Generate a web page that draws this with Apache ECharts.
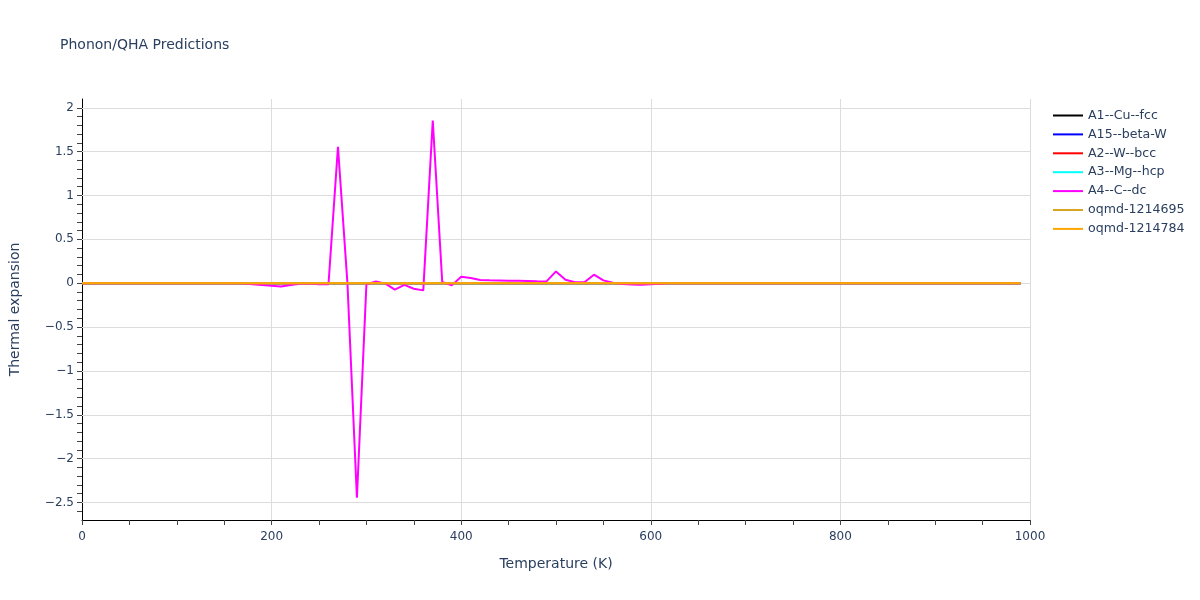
<!DOCTYPE html>
<html>
<head>
<meta charset="utf-8">
<script src="https://cdn.jsdelivr.net/npm/echarts@6/dist/echarts.min.js"></script>
<style>html,body{margin:0;padding:0;background:#fff}#c{width:1200px;height:600px}</style>
</head>
<body>
<div id="c"></div>
<script>
const temps = [0,10,20,30,40,50,60,70,80,90,100,110,120,130,140,150,160,170,180,190,200,210,220,230,240,250,260,270,280,290,300,310,320,330,340,350,360,370,380,390,400,410,420,430,440,450,460,470,480,490,500,510,520,530,540,550,560,570,580,590,600,610,620,630,640,650,660,670,680,690,700,710,720,730,740,750,760,770,780,790,800,810,820,830,840,850,860,870,880,890,900,910,920,930,940,950,960,970,980,990];
const seriesNames = ['A1--Cu--fcc','A15--beta-W','A2--W--bcc','A3--Mg--hcp','A4--C--dc','oqmd-1214695','oqmd-1214784'];
const seriesColors = ['#000000','#0000ff','#ff0000','#00ffff','#ff00ff','#daa520','#ffa500'];
const A1 = [0,0,0,0,0,0,0,0,0,0,0,0,0,0,0,0,0,0,0,0,0,0,0,0,0,0,0,0,0,0,0,0,0,0,0,0,0,0,0,0,0,0,0,0,0,0,0,0,0,0,0,0,0,0,0,0,0,0,0,0,0,0,0,0,0,0,0,0,0,0,0,0,0,0,0,0,0,0,0,0,0,0,0,0,0,0,0,0,0,0,0,0,0,0,0,0,0,0,0,0];
const A15 = [0,0,0,0,0,0,0,0,0,0,0,0,0,0,0,0,0,0,0,0,0,0,0,0,0,0,0,0,0,0,0,0,0,0,0,0,0,0,0,0,0,0,0,0,0,0,0,0,0,0,0,0,0,0,0,0,0,0,0,0,0,0,0,0,0,0,0,0,0,0,0,0,0,0,0,0,0,0,0,0,0,0,0,0,0,0,0,0,0,0,0,0,0,0,0,0,0,0,0,0];
const A2 = [0,0,0,0,0,0,0,0,0,0,0,0,0,0,0,0,0,0,0,0,0,0,0,0,0,0,0,0,0,0,0,0,0,0,0,0,0,0,0,0,0,0,0,0,0,0,0,0,0,0,0,0,0,0,0,0,0,0,0,0,0,0,0,0,0,0,0,0,0,0,0,0,0,0,0,0,0,0,0,0,0,0,0,0,0,0,0,0,0,0,0,0,0,0,0,0,0,0,0,0];
const A3 = [0,0,0,0,0,0,0,0,0,0,0,0,0,0,0,0,0,0,0,0,0,0,0,0,0,0,0,0,0,0,0,0,0,0,0,0,0,0,0,0,0,0,0,0,0,0,0,0,0,0,0,0,0,0,0,0,0,0,0,0,0,0,0,0,0,0,0,0,0,0,0,0,0,0,0,0,0,0,0,0,0,0,0,0,0,0,0,0,0,0,0,0,0,0,0,0,0,0,0,0];
const A4 = [0,0,0,0,0,0,0,0,0,0,0,0,0,0,0,0,0,
  -0.005,-0.012,-0.022,-0.03,-0.037,-0.02,-0.006,-0.004,-0.012,-0.012,
  1.555,0.0,-2.447,-0.015,0.02,-0.005,-0.074,-0.02,-0.063,-0.082,
  1.855,0.014,-0.025,0.074,0.06,0.036,0.033,0.031,0.029,0.027,
  0.025,0.022,0.02,0.134,0.04,0.01,0.01,0.097,0.032,0.004,
  -0.008,-0.015,-0.017,-0.012,-0.006,-0.002,
  0,0,0,0,0,0,0,0,0,0,0,0,0,0,0,0,0,0,0,0,0,0,0,0,0,0,0,0,0,0,0,0,0,0,0,0,0];
const Q1 = [0,0,0,0,0,0,0,0,0,0,0,0,0,0,0,0,0,0,0,0,0,0,0,0,0,0,0,0,0,0,0,0,0,0,0,0,0,0,0,0,0,0,0,0,0,0,0,0,0,0,0,0,0,0,0,0,0,0,0,0,0,0,0,0,0,0,0,0,0,0,0,0,0,0,0,0,0,0,0,0,0,0,0,0,0,0,0,0,0,0,0,0,0,0,0,0,0,0,0,0];
const Q2 = [0,0,0,0,0,0,0,0,0,0,0,0,0,0,0,0,0,0,0,0,0,0,0,0,0,0,0,0,0,0,0,0,0,0,0,0,0,0,0,0,0,0,0,0,0,0,0,0,0,0,0,0,0,0,0,0,0,0,0,0,0,0,0,0,0,0,0,0,0,0,0,0,0,0,0,0,0,0,0,0,0,0,0,0,0,0,0,0,0,0,0,0,0,0,0,0,0,0,0,0];
const yGridValues = [-2.5,-2,-1.5,-1,-0.5,0,0.5,1,1.5,2];

const allData = [A1, A15, A2, A3, A4, Q1, Q2];
const font = '"DejaVu Sans", Verdana, sans-serif';
const textColor = '#2a3f5f';

const series = allData.map((vals, i) => ({
  name: seriesNames[i],
  type: 'line',
  data: temps.map((t, j) => [t, vals[j]]),
  showSymbol: false,
  symbol: 'none',
  lineStyle: { color: seriesColors[i], width: 2 },
  itemStyle: { color: seriesColors[i] },
  z: 3 + i,
  animation: false
}));
series.push({
  name: '__grid',
  type: 'line',
  data: [],
  silent: true,
  z: 1,
  markLine: {
    silent: true,
    symbol: 'none',
    label: { show: false },
    animation: false,
    lineStyle: { color: '#dcdcdc', width: 1, type: 'solid' },
    data: yGridValues.map(v => ({ yAxis: v }))
  }
});

const chart = echarts.init(document.getElementById('c'), null, { renderer: 'canvas' });
chart.setOption({
  backgroundColor: '#fff',
  animation: false,
  title: {
    text: 'Phonon/QHA Predictions',
    left: 55, top: 33,
    textStyle: { fontFamily: font, fontSize: 14, fontWeight: 'normal', color: textColor }
  },
  legend: {
    data: seriesNames,
    orient: 'vertical',
    left: 1048, top: 104,
    icon: 'rect',
    itemWidth: 30, itemHeight: 2,
    itemGap: 5.9,
    textStyle: { fontFamily: font, fontSize: 12.6, color: textColor },
    inactiveColor: '#ccc'
  },
  grid: { left: 80, right: 170, top: 99, bottom: 80, containLabel: false },
  xAxis: {
    type: 'value',
    min: 0, max: 1000, interval: 200,
    name: 'Temperature (K)',
    nameLocation: 'middle',
    nameGap: 37,
    nameTextStyle: { fontFamily: font, fontSize: 14, color: textColor },
    axisLine: { show: true, onZero: false, lineStyle: { color: '#000', width: 1 } },
    axisTick: { show: true, length: 5, lineStyle: { color: '#444' } },
    minorTick: { show: true, splitNumber: 4, length: 5, lineStyle: { color: '#444' } },
    axisLabel: { fontFamily: font, fontSize: 12, color: textColor, margin: 11,
      formatter: function (v) { return String(v); } },
    splitLine: { show: true, lineStyle: { color: '#dcdcdc', width: 1 } }
  },
  yAxis: {
    type: 'value',
    min: -2.7, max: 2.1, interval: 0.1,
    name: 'Thermal expansion',
    nameLocation: 'middle',
    nameGap: 60,
    nameTextStyle: { fontFamily: font, fontSize: 14, color: textColor },
    axisLine: { show: true, onZero: false, lineStyle: { color: '#000', width: 1 } },
    axisTick: { show: true, length: 5, lineStyle: { color: '#444' } },
    axisLabel: {
      fontFamily: font, fontSize: 12, color: textColor, margin: 8,
      showMinLabel: false, showMaxLabel: false,
      formatter: function (v) {
        const r = Math.round(v * 2) / 2;
        if (Math.abs(v - r) > 1e-6) return '';
        return String(r).replace('-', '\u2212');
      }
    },
    splitLine: { show: false }
  },
  series: series
});
</script>
</body>
</html>
